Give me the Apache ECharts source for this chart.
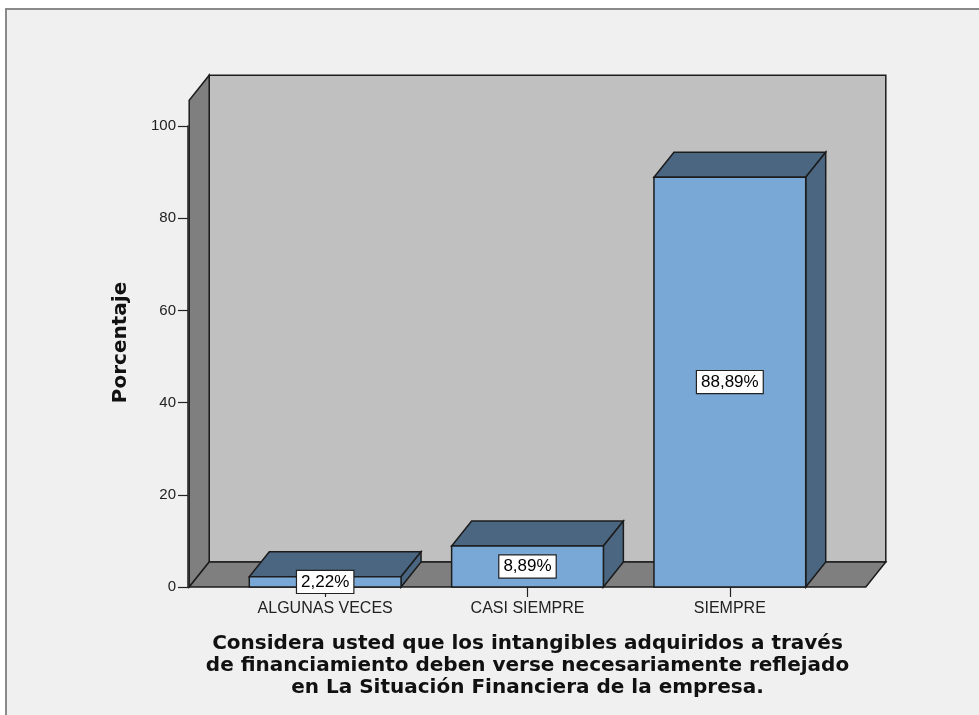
<!DOCTYPE html>
<html>
<head>
<meta charset="utf-8">
<script src="https://cdn.jsdelivr.net/npm/echarts@6/dist/echarts.min.js"></script>
<style>
  html, body { margin: 0; padding: 0; background: #fff; }
  #chart { width: 979px; height: 715px; }
</style>
</head>
<body>
<div id="chart"></div>
<script>
const categories = ['ALGUNAS VECES', 'CASI SIEMPRE', 'SIEMPRE']
const percentages = [2.22, 8.89, 88.89]

const xTitle = 'Considera usted que los intangibles adquiridos a través\nde financiamiento deben verse necesariamente reflejado\nen La Situación Financiera de la empresa.'

// 3d look
const DEPTH = [20, -25]
const BAR_HALF = 0.375
const WALL_X = [-0.672, 2.672]
const WALL_TOP = 105.6
const EDGE = '#1c1c1c'

const fmtPct = v => v.toFixed(2).replace('.', ',') + '%'

function renderWalls(params, api) {
  const [dx, dy] = DEPTH
  const a = api.coord([WALL_X[0], 0])
  const b = api.coord([WALL_X[1], 0])
  const at = api.coord([WALL_X[0], WALL_TOP])
  const bt = api.coord([WALL_X[1], WALL_TOP])
  const shift = p => [p[0] + dx, p[1] + dy]
  const style = fill => ({ fill, stroke: EDGE, lineWidth: 1.5 })
  return {
    type: 'group',
    children: [
      { type: 'polygon', shape: { points: [shift(a), shift(b), shift(bt), shift(at)] }, style: style('#c0c0c0') },
      { type: 'polygon', shape: { points: [a, shift(a), shift(at), at] }, style: style('#7f7f7f') },
      { type: 'polygon', shape: { points: [a, b, shift(b), shift(a)] }, style: style('#7f7f7f') },
    ],
  }
}

function renderBar(params, api) {
  const [dx, dy] = DEPTH
  const i = api.value(0)
  const v = api.value(1)
  const p0 = api.coord([i - BAR_HALF, 0])
  const p1 = api.coord([i + BAR_HALF, v])
  const x0 = p0[0], x1 = p1[0], yb = p0[1], yt = p1[1]
  const edge = { stroke: EDGE, lineWidth: 1.5 }
  return {
    type: 'group',
    children: [
      {
        type: 'polygon',
        shape: { points: [[x0, yt], [x1, yt], [x1 + dx, yt + dy], [x0 + dx, yt + dy]] },
        style: { fill: '#4a6681', ...edge },
      },
      {
        type: 'polygon',
        shape: { points: [[x1, yt], [x1 + dx, yt + dy], [x1 + dx, yb + dy], [x1, yb]] },
        style: { fill: '#4a6681', ...edge },
      },
      {
        type: 'rect',
        shape: { x: x0, y: yt, width: x1 - x0, height: yb - yt },
        style: { fill: '#7aa8d6', ...edge },
      },
      {
        type: 'text',
        z2: 10,
        style: {
          x: (x0 + x1) / 2,
          y: (yt + yb) / 2,
          text: fmtPct(v),
          align: 'center',
          verticalAlign: 'middle',
          fontFamily: 'Liberation Sans, Arial, sans-serif',
          fontSize: 17,
          fill: '#000',
          backgroundColor: '#fff',
          borderColor: '#222',
          borderWidth: 1.2,
          padding: [3, 4, 2, 4],
        },
      },
    ],
  }
}

const chart = echarts.init(document.getElementById('chart'))

chart.setOption({
  animation: false,
  backgroundColor: '#fff',
  graphic: [
    {
      type: 'rect',
      z: -10,
      shape: { x: 6, y: 9, width: 1000, height: 800 },
      style: { fill: '#f0f0f0', stroke: '#8a8a8a', lineWidth: 2 },
    },
  ],
  grid: {
    left: 224,
    width: 607,
    top: 126,
    bottom: 128,
  },
  xAxis: [
    {
      type: 'category',
      data: categories,
      axisLine: { show: false },
      axisTick: { show: true, alignWithLabel: true, length: 10, lineStyle: { color: '#222', width: 1.2 } },
      axisLabel: {
        margin: 14,
        color: '#222',
        fontSize: 16,
        fontFamily: 'Liberation Sans, Arial, sans-serif',
      },
      name: xTitle,
      nameLocation: 'middle',
      nameGap: 46,
      nameTextStyle: {
        color: '#111',
        fontSize: 20,
        fontWeight: 'bold',
        fontFamily: 'DejaVu Sans, sans-serif',
        lineHeight: 22,
        align: 'center',
      },
    },
    {
      type: 'value',
      show: false,
      min: -0.5,
      max: 2.5,
    },
  ],
  yAxis: {
    type: 'value',
    min: 0,
    max: 100,
    interval: 20,
    offset: 36,
    z: 5,
    axisLine: { show: true, onZero: false, lineStyle: { color: EDGE, width: 1.5 } },
    axisTick: { show: true, length: 10, lineStyle: { color: '#222', width: 1.2 } },
    splitLine: { show: false },
    axisLabel: {
      margin: 12,
      color: '#222',
      fontSize: 15,
      fontFamily: 'Liberation Sans, Arial, sans-serif',
    },
    name: 'Porcentaje',
    nameLocation: 'middle',
    nameGap: 57,
    nameTextStyle: {
      color: '#111',
      fontSize: 20,
      fontWeight: 'bold',
      fontFamily: 'DejaVu Sans, sans-serif',
      padding: [0, 0, 0, 28],
    },
  },
  series: [
    {
      type: 'custom',
      xAxisIndex: 1,
      z: 1,
      silent: true,
      renderItem: renderWalls,
      data: [[0, 0]],
    },
    {
      type: 'custom',
      xAxisIndex: 1,
      z: 3,
      renderItem: renderBar,
      data: percentages.map((v, i) => [i, v]),
    },
  ],
})
</script>
</body>
</html>
